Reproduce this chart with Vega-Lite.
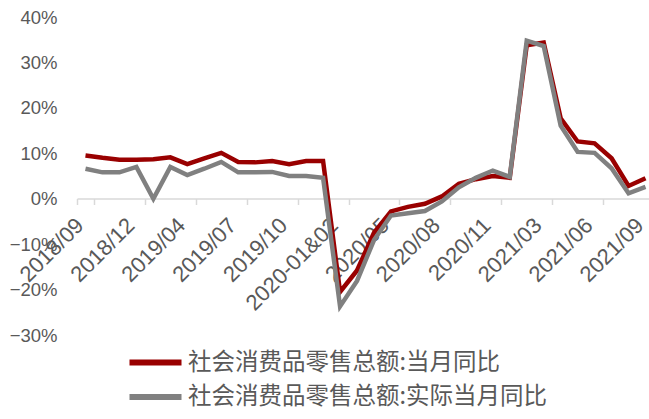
{
  "$schema": "https://vega.github.io/schema/vega-lite/v6.json",
  "width": 572,
  "height": 318,
  "autosize": {"type": "none"},
  "padding": {"left": 77, "top": 17, "right": 0, "bottom": 84},
  "background": "white",
  "config": {"view": {"stroke": null}, "font": "Liberation Sans"},
  "data": {
    "values": [
      {"month": "2018/09", "series": "社会消费品零售总额:当月同比", "value": 9.5},
      {"month": "2018/10", "series": "社会消费品零售总额:当月同比", "value": 9.0},
      {"month": "2018/11", "series": "社会消费品零售总额:当月同比", "value": 8.6},
      {"month": "2018/12", "series": "社会消费品零售总额:当月同比", "value": 8.6},
      {"month": "2019/02", "series": "社会消费品零售总额:当月同比", "value": 8.7},
      {"month": "2019/03", "series": "社会消费品零售总额:当月同比", "value": 9.1},
      {"month": "2019/04", "series": "社会消费品零售总额:当月同比", "value": 7.6},
      {"month": "2019/05", "series": "社会消费品零售总额:当月同比", "value": 8.9},
      {"month": "2019/06", "series": "社会消费品零售总额:当月同比", "value": 10.1},
      {"month": "2019/07", "series": "社会消费品零售总额:当月同比", "value": 8.1},
      {"month": "2019/08", "series": "社会消费品零售总额:当月同比", "value": 8.0},
      {"month": "2019/09", "series": "社会消费品零售总额:当月同比", "value": 8.3},
      {"month": "2019/10", "series": "社会消费品零售总额:当月同比", "value": 7.6},
      {"month": "2019/11", "series": "社会消费品零售总额:当月同比", "value": 8.3},
      {"month": "2019/12", "series": "社会消费品零售总额:当月同比", "value": 8.3},
      {"month": "2020-01&02", "series": "社会消费品零售总额:当月同比", "value": -20.5},
      {"month": "2020/03", "series": "社会消费品零售总额:当月同比", "value": -15.8},
      {"month": "2020/04", "series": "社会消费品零售总额:当月同比", "value": -7.5},
      {"month": "2020/05", "series": "社会消费品零售总额:当月同比", "value": -2.8},
      {"month": "2020/06", "series": "社会消费品零售总额:当月同比", "value": -1.8},
      {"month": "2020/07", "series": "社会消费品零售总额:当月同比", "value": -1.1},
      {"month": "2020/08", "series": "社会消费品零售总额:当月同比", "value": 0.5},
      {"month": "2020/09", "series": "社会消费品零售总额:当月同比", "value": 3.3},
      {"month": "2020/10", "series": "社会消费品零售总额:当月同比", "value": 4.3},
      {"month": "2020/11", "series": "社会消费品零售总额:当月同比", "value": 5.0},
      {"month": "2020/12", "series": "社会消费品零售总额:当月同比", "value": 4.6},
      {"month": "2021/02", "series": "社会消费品零售总额:当月同比", "value": 33.8},
      {"month": "2021/03", "series": "社会消费品零售总额:当月同比", "value": 34.4},
      {"month": "2021/04", "series": "社会消费品零售总额:当月同比", "value": 17.7},
      {"month": "2021/05", "series": "社会消费品零售总额:当月同比", "value": 12.6},
      {"month": "2021/06", "series": "社会消费品零售总额:当月同比", "value": 12.2},
      {"month": "2021/07", "series": "社会消费品零售总额:当月同比", "value": 8.9},
      {"month": "2021/08", "series": "社会消费品零售总额:当月同比", "value": 2.8},
      {"month": "2021/09", "series": "社会消费品零售总额:当月同比", "value": 4.5},
      {"month": "2018/09", "series": "社会消费品零售总额:实际当月同比", "value": 6.6},
      {"month": "2018/10", "series": "社会消费品零售总额:实际当月同比", "value": 5.8},
      {"month": "2018/11", "series": "社会消费品零售总额:实际当月同比", "value": 5.8},
      {"month": "2018/12", "series": "社会消费品零售总额:实际当月同比", "value": 7.0},
      {"month": "2019/02", "series": "社会消费品零售总额:实际当月同比", "value": 0},
      {"month": "2019/03", "series": "社会消费品零售总额:实际当月同比", "value": 7.0},
      {"month": "2019/04", "series": "社会消费品零售总额:实际当月同比", "value": 5.2},
      {"month": "2019/05", "series": "社会消费品零售总额:实际当月同比", "value": 6.6},
      {"month": "2019/06", "series": "社会消费品零售总额:实际当月同比", "value": 8.1},
      {"month": "2019/07", "series": "社会消费品零售总额:实际当月同比", "value": 5.8},
      {"month": "2019/08", "series": "社会消费品零售总额:实际当月同比", "value": 5.8},
      {"month": "2019/09", "series": "社会消费品零售总额:实际当月同比", "value": 5.9},
      {"month": "2019/10", "series": "社会消费品零售总额:实际当月同比", "value": 5.0},
      {"month": "2019/11", "series": "社会消费品零售总额:实际当月同比", "value": 5.0},
      {"month": "2019/12", "series": "社会消费品零售总额:实际当月同比", "value": 4.6},
      {"month": "2020-01&02", "series": "社会消费品零售总额:实际当月同比", "value": -23.7},
      {"month": "2020/03", "series": "社会消费品零售总额:实际当月同比", "value": -18.1},
      {"month": "2020/04", "series": "社会消费品零售总额:实际当月同比", "value": -9.1},
      {"month": "2020/05", "series": "社会消费品零售总额:实际当月同比", "value": -3.7},
      {"month": "2020/06", "series": "社会消费品零售总额:实际当月同比", "value": -3.2},
      {"month": "2020/07", "series": "社会消费品零售总额:实际当月同比", "value": -2.7},
      {"month": "2020/08", "series": "社会消费品零售总额:实际当月同比", "value": -0.6},
      {"month": "2020/09", "series": "社会消费品零售总额:实际当月同比", "value": 2.5},
      {"month": "2020/10", "series": "社会消费品零售总额:实际当月同比", "value": 4.6},
      {"month": "2020/11", "series": "社会消费品零售总额:实际当月同比", "value": 6.2},
      {"month": "2020/12", "series": "社会消费品零售总额:实际当月同比", "value": 4.8},
      {"month": "2021/02", "series": "社会消费品零售总额:实际当月同比", "value": 34.8},
      {"month": "2021/03", "series": "社会消费品零售总额:实际当月同比", "value": 33.6},
      {"month": "2021/04", "series": "社会消费品零售总额:实际当月同比", "value": 16.1},
      {"month": "2021/05", "series": "社会消费品零售总额:实际当月同比", "value": 10.3},
      {"month": "2021/06", "series": "社会消费品零售总额:实际当月同比", "value": 10.1},
      {"month": "2021/07", "series": "社会消费品零售总额:实际当月同比", "value": 6.7},
      {"month": "2021/08", "series": "社会消费品零售总额:实际当月同比", "value": 1.2},
      {"month": "2021/09", "series": "社会消费品零售总额:实际当月同比", "value": 2.6}
    ]
  },
  "mark": {"type": "line", "strokeWidth": 4.5},
  "encoding": {
    "x": {
      "field": "month",
      "type": "ordinal",
      "sort": null,
      "bandPosition": 0.5,
      "scale": {"type": "band", "paddingInner": 0, "paddingOuter": 0, "range": [0, 577]},
      "axis": {
        "title": null,
        "values": ["2018/09", "2018/12", "2019/04", "2019/07", "2019/10", "2020-01&02", "2020/05", "2020/08", "2020/11", "2021/03", "2021/06", "2021/09"],
        "offset": -136.5,
        "domainColor": "#d9d9d9",
        "domainWidth": 1.5,
        "tickColor": "#d9d9d9",
        "tickWidth": 1.5,
        "tickSize": 6,
        "tickBand": "extent",
        "tickExtra": false,
        "labelAngle": -45,
        "labelAlign": "right",
        "labelBaseline": "middle",
        "labelFontSize": 22,
        "labelColor": "#595959",
        "labelPadding": 17,
        "labelOffset": -6,
        "labelOverlap": false,
        "labelBound": false,
        "grid": false,
        "zindex": 0
      }
    },
    "y": {
      "field": "value",
      "type": "quantitative",
      "scale": {"domain": [-30, 40], "nice": false, "zero": false},
      "axis": {
        "title": null,
        "values": [-30, -20, -10, 0, 10, 20, 30, 40],
        "domain": false,
        "ticks": false,
        "grid": false,
        "format": "d",
        "labelExpr": "datum.label + '%'",
        "labelFontSize": 18.5,
        "labelColor": "#595959",
        "labelPadding": 20
      }
    },
    "color": {
      "field": "series",
      "type": "nominal",
      "sort": null,
      "scale": {
        "domain": ["社会消费品零售总额:当月同比", "社会消费品零售总额:实际当月同比"],
        "range": ["#990000", "#808080"]
      },
      "legend": {
        "orient": "none",
        "legendX": 65,
        "legendY": 332,
        "title": null,
        "direction": "vertical",
        "padding": 0,
        "symbolType": "M-2.5,0H2.5",
        "symbolSize": 433,
        "symbolStrokeWidth": 6,
        "symbolFillColor": "transparent",
        "labelFont": "Noto Sans CJK SC",
        "labelFontSize": 23.5,
        "labelColor": "#595959",
        "labelOffset": 19,
        "rowPadding": 8.5,
        "labelLimit": 500
      }
    }
  }
}
